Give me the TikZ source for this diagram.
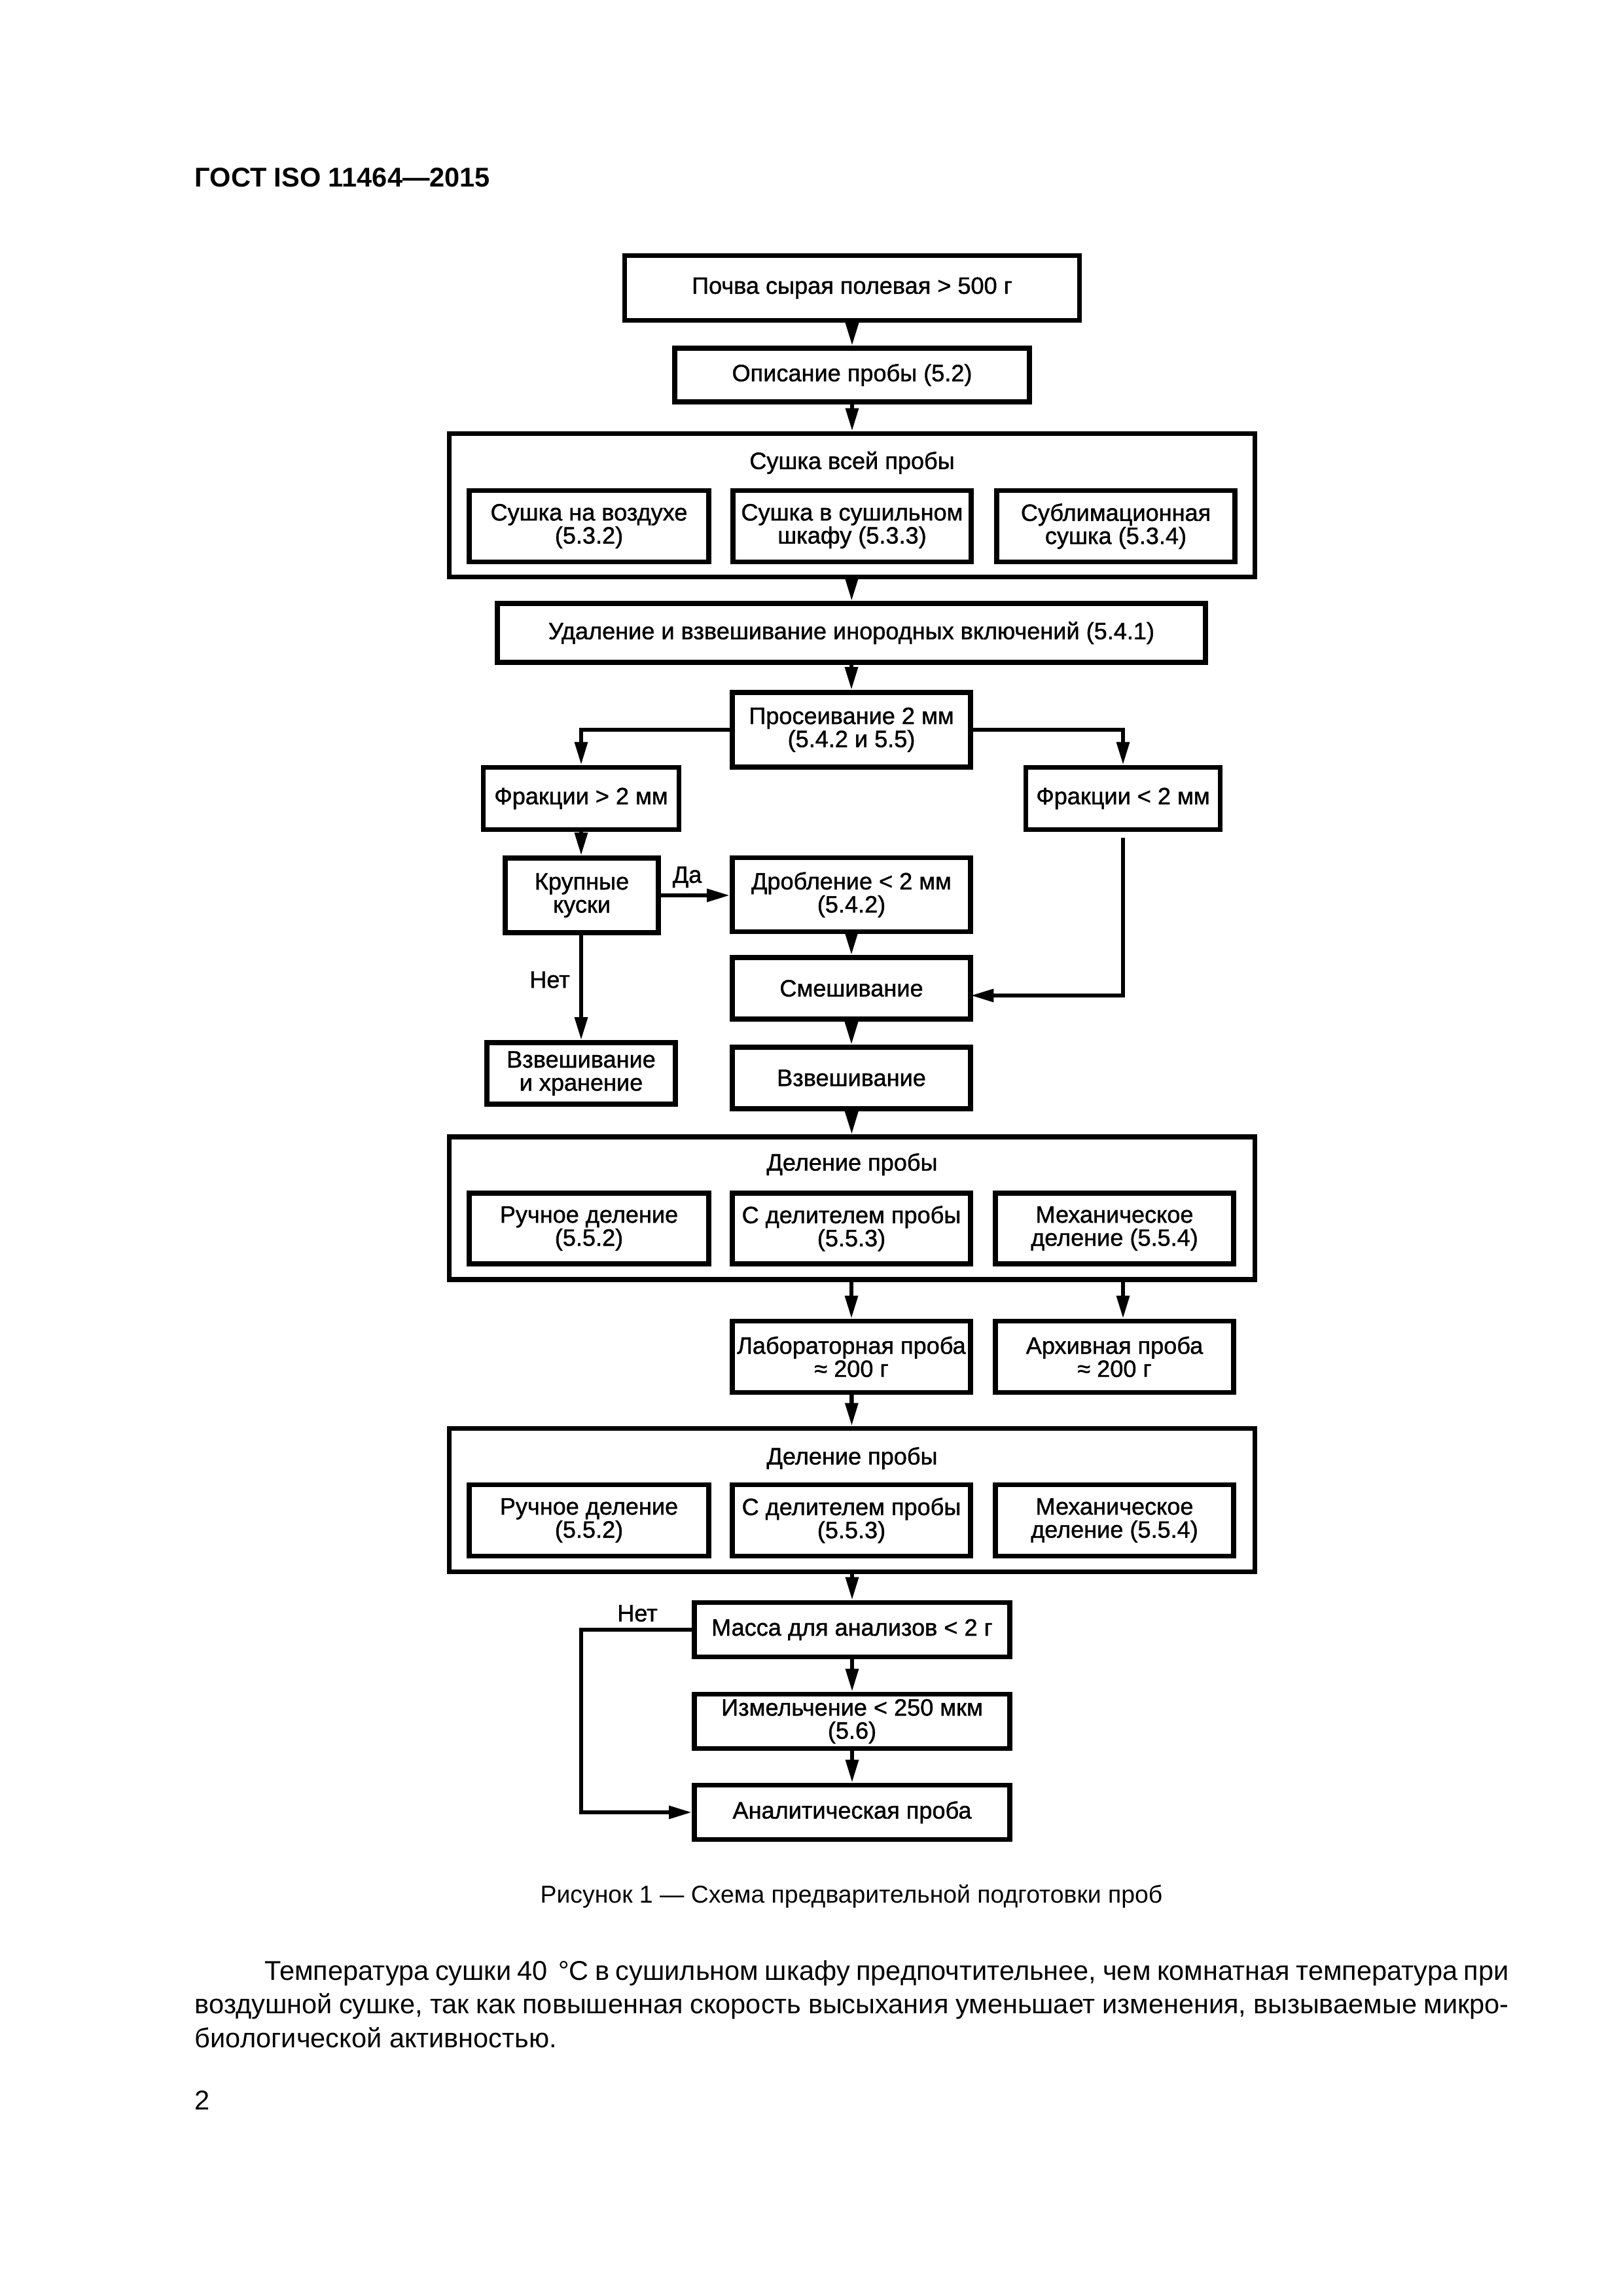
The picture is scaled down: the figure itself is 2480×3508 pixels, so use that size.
\documentclass[tikz,border=0pt]{standalone}
\usepackage{fontspec}
\setmainfont{Liberation Sans}
\newfontfamily\boxfam{Liberation Sans}[FakeBold=1.2]
\usetikzlibrary{arrows.meta}
\newcommand\boxfont{\boxfam\fontsize{8.7}{8.5}\selectfont}
\begin{document}
\begin{tikzpicture}[x=0.084677mm, y=-0.084677mm,
  box/.style={draw, line width=0.6mm, inner sep=0pt, align=center, font=\boxfont},
  sz/.style 2 args={minimum width={#1*0.084677mm}, minimum height={#2*0.084677mm}},
  arr/.style={line width=0.55mm, -{Triangle[length=3mm,width=1.6mm]}},
  ln/.style={line width=0.55mm},
  lbl/.style={font=\boxfont, inner sep=0pt}]
\useasboundingbox (0,0) rectangle (2480,3508);
% header
\node[anchor=base west, inner sep=0pt, font=\fontsize{10}{12}\selectfont\bfseries] (hdr) at (297,285) {ГОСТ ISO 11464—2015};
% flow
\node[box, sz={695}{99}] (b1) at (1302,440) {Почва сырая полевая > 500 г};
\node[box, sz={542}{82}] (b2) at (1302,573) {Описание пробы (5.2)};
\node[box, sz={1231}{219}] (dry) at (1302,772) {};
\node[lbl] (dryt) at (1302,707) {Сушка всей пробы};
\node[box, sz={366}{109}] (dry1) at (900,804) {Сушка на воздухе\\(5.3.2)};
\node[box, sz={364}{109}] (dry2) at (1302,804) {Сушка в сушильном\\шкафу (5.3.3)};
\node[box, sz={364}{109}] (dry3) at (1705,804) {Сублимационная\\сушка (5.3.4)};
\node[box, sz={1082}{90}] (rem) at (1301,967) {Удаление и взвешивание инородных включений (5.4.1)};
\node[box, sz={364}{114}] (pros) at (1301,1115) {Просеивание 2 мм\\(5.4.2 и 5.5)};
\node[box, sz={299}{95}] (fr1) at (888,1220) {Фракции > 2 мм};
\node[box, sz={297}{95}] (fr2) at (1716,1220) {Фракции < 2 мм};
\node[box, sz={234}{114}] (krup) at (889,1368) {Крупные\\куски};
\node[box, sz={364}{113}] (drob) at (1301,1367) {Дробление < 2 мм\\(5.4.2)};
\node[box, sz={364}{94}] (smesh) at (1301,1510) {Смешивание};
\node[box, sz={288}{94}] (vzh) at (888,1640) {Взвешивание\\и хранение};
\node[box, sz={364}{94}] (vzv) at (1301,1647) {Взвешивание};
\node[box, sz={1231}{218}] (div1) at (1302,1846) {};
\node[lbl] (div1t) at (1302,1779) {Деление пробы};
\node[box, sz={366}{108}] (d11) at (900,1877) {Ручное деление\\(5.5.2)};
\node[box, sz={364}{108}] (d12) at (1301,1877) {С делителем пробы\\(5.5.3)};
\node[box, sz={364}{108}] (d13) at (1703,1877) {Механическое\\деление (5.5.4)};
\node[box, sz={364}{109}] (lab) at (1301,2073) {Лабораторная проба\\≈ 200 г};
\node[box, sz={364}{109}] (arch) at (1703,2073) {Архивная проба\\≈ 200 г};
\node[box, sz={1231}{219}] (div2) at (1302,2292) {};
\node[lbl] (div2t) at (1302,2228) {Деление пробы};
\node[box, sz={366}{109}] (d21) at (900,2323) {Ручное деление\\(5.5.2)};
\node[box, sz={364}{109}] (d22) at (1301,2323) {С делителем пробы\\(5.5.3)};
\node[box, sz={364}{109}] (d23) at (1703,2323) {Механическое\\деление (5.5.4)};
\node[box, sz={482}{83}] (mass) at (1302,2490) {Масса для анализов < 2 г};
\node[box, sz={482}{83}] (izm) at (1302,2630) {Измельчение < 250 мкм\\(5.6)};
\node[box, sz={482}{83}] (anal) at (1302,2769) {Аналитическая проба};
% labels
\node[lbl] (da) at (1050,1340) {Да};
\node[lbl] (net1) at (840,1497) {Нет};
\node[lbl] (net2) at (974,2465) {Нет};
\coordinate (frgap) at (1716,1280);
\coordinate (smin) at (1483,1521);
% connectors
\draw[arr] (b1) -- (b2);
\draw[arr] (b2) -- (dry);
\draw[arr] (dry) -- (rem);
\draw[arr] (rem) -- (pros);
\draw[arr] (pros.west) -| (fr1.north);
\draw[arr] (pros.east) -| (fr2.north);
\draw[arr] (fr1.south) -- (fr1.south |- krup.north);
\draw[arr] (krup.east) -- (krup.east -| drob.west);
\draw[arr] (fr1.south |- krup.south) -- (fr1.south |- vzh.north);
\draw[arr] (frgap) |- (smin);
\draw[arr] (drob) -- (smesh);
\draw[arr] (smesh) -- (vzv);
\draw[arr] (vzv) -- (div1);
\draw[arr] (div1.south -| lab) -- (lab.north);
\draw[arr] (div1.south -| fr2) -- (arch.north -| fr2);
\draw[arr] (lab) -- (div2);
\draw[arr] (div2) -- (mass);
\draw[arr] (mass) -- (izm);
\draw[arr] (izm) -- (anal);
\draw[arr] (mass.west) -- (mass.west -| fr1) |- (anal.west);
% caption and text
\node[anchor=base, inner sep=0pt, font=\fontsize{9}{11}\selectfont] (cap) at (1301,2907) {Рисунок 1 — Схема предварительной подготовки проб};
\node[anchor=base west, inner sep=0pt, text width=170mm, align=justify, font=\fontsize{10}{12.5}\selectfont] (para) at (297,3025) {\tolerance=10000\hspace*{9mm}Температура сушки 40\,~°С в сушильном шкафу предпочтительнее, чем комнатная температура при\linebreak воздушной сушке, так как повышенная скорость высыхания уменьшает изменения, вызываемые микро-\linebreak{}биологической активностью.};
\node[anchor=base west, inner sep=0pt, font=\fontsize{10}{12}\selectfont] (pg) at (297,3223) {2};
\end{tikzpicture}
\end{document}
